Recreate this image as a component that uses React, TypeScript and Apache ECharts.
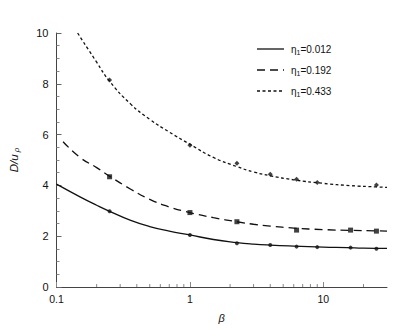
import React, { useEffect, useRef } from "react";
import * as echarts from "echarts";

// Fitted curves (beta, D/u_rho)
const curveLowBeta = [0.1, 0.15, 0.2, 0.25, 0.36, 0.5, 0.7, 1, 1.5, 2.25, 3, 4, 6, 10, 15, 20, 30];
const curveLowY = [4.05, 3.55, 3.22, 2.98, 2.62, 2.38, 2.2, 2.05, 1.87, 1.75, 1.69, 1.65, 1.61, 1.57, 1.55, 1.53, 1.52];

const curveMidBeta = [0.112, 0.15, 0.2, 0.25, 0.36, 0.5, 0.7, 1, 1.5, 2.25, 3, 4, 6, 10, 16, 25, 30];
const curveMidY = [5.72, 5.1, 4.7, 4.36, 3.85, 3.45, 3.15, 2.93, 2.73, 2.57, 2.47, 2.4, 2.32, 2.26, 2.23, 2.21, 2.2];

const curveHighBeta = [0.144, 0.2, 0.25, 0.36, 0.5, 0.7, 1, 1.5, 2.25, 3, 4, 6, 10, 16, 25, 30];
const curveHighY = [10, 8.85, 8.1, 7.2, 6.6, 6.1, 5.62, 5.1, 4.74, 4.53, 4.38, 4.22, 4.08, 3.99, 3.94, 3.92];

// Measured points
const ptsLowBeta = [0.25, 1, 2.25, 4, 6.3, 9, 16, 25];
const ptsLowY = [2.98, 2.05, 1.72, 1.65, 1.59, 1.57, 1.55, 1.51];

const ptsMidBeta = [0.25, 1, 2.25, 6.3, 16, 25];
const ptsMidY = [4.34, 2.93, 2.57, 2.24, 2.24, 2.2];

const ptsHighBeta = [0.25, 1, 2.25, 4, 6.3, 9, 25];
const ptsHighY = [8.15, 5.58, 4.87, 4.44, 4.24, 4.11, 4.02];

const seriesNames = ["η1=0.012", "η1=0.192", "η1=0.433"];
const legendValues = ["0.012", "0.192", "0.433"];

const xMinorTicks = [0.2, 0.3, 0.4, 0.5, 0.6, 0.7, 0.8, 0.9, 2, 3, 4, 5, 6, 7, 8, 9, 20];
const yTicks = [0, 2, 4, 6, 8, 10];

const zip = (xs: number[], ys: number[]) => xs.map((x, i) => [x, ys[i]]);

const FONT = "'Liberation Sans', Arial, sans-serif";
const INK = "#111";
const DASHES: any[] = [null, [8, 5], [3, 2.5]];

export default function App() {
  const ref = useRef<HTMLDivElement>(null);

  useEffect(() => {
    if (!ref.current) return;
    const chart = echarts.init(ref.current, null, { renderer: "svg" });

    const lineSeries = (name: string, data: number[][], dash: any) => ({
      name,
      type: "line",
      data,
      smooth: true,
      symbol: "none",
      lineStyle: { color: INK, width: 1.3, type: dash || "solid" },
      itemStyle: { color: INK },
      z: 2,
    });

    const scatter = (data: number[][], symbol: string, size: number) => ({
      type: "scatter",
      data,
      symbol,
      symbolSize: size,
      itemStyle: { color: INK },
      z: 3,
    });

    // legend drawn as graphic rows
    const legendRows: any[] = [];
    legendValues.forEach((v, i) => {
      const cy = 49 + i * 21;
      legendRows.push({
        type: "line",
        shape: { x1: 257, y1: cy, x2: 284, y2: cy },
        style: { stroke: INK, lineWidth: 1.3, lineDash: DASHES[i] || undefined },
      });
      legendRows.push({
        type: "text",
        x: 291,
        y: cy,
        style: {
          text: `{e|η}{s|1}{e|=${v}}`,
          verticalAlign: "middle",
          fill: INK,
          rich: {
            e: { fontSize: 10, fill: INK, fontFamily: FONT },
            s: { fontSize: 7, fill: INK, fontFamily: FONT, padding: [6, 0, 0, 0] },
          },
        },
      });
    });

    chart.setOption({
      animation: false,
      backgroundColor: "#fff",
      textStyle: { fontFamily: FONT },
      grid: { left: 55, right: 28, top: 33, bottom: 44, containLabel: false },
      graphic: legendRows,
      xAxis: {
        type: "log",
        logBase: 10,
        min: 0.1,
        max: 30,
        name: "β",
        nameLocation: "middle",
        nameGap: 25,
        nameTextStyle: { fontStyle: "italic", fontSize: 11, color: INK, fontFamily: FONT },
        axisLine: { lineStyle: { color: "#444", width: 1 } },
        axisTick: { inside: true, length: 5, lineStyle: { color: "#888" } },
        splitLine: { show: false },
        axisLabel: {
          color: INK,
          fontSize: 10.5,
          margin: 6,
          showMaxLabel: false,
          formatter: (v: number) => {
            const l = Math.log10(v);
            if (Math.abs(l - Math.round(l)) > 1e-6) return "";
            return String(Number(v.toPrecision(6)));
          },
        },
      },
      yAxis: {
        type: "value",
        min: 0,
        max: 10,
        interval: 2,
        name: "{i|D/u}{s|ρ}",
        nameLocation: "middle",
        nameGap: 36,
        nameRotate: 90,
        nameTextStyle: {
          rich: {
            i: { fontStyle: "italic", fontSize: 11.5, color: INK, fontFamily: FONT },
            s: { fontStyle: "italic", fontSize: 8, color: INK, fontFamily: FONT, padding: [5, 0, 0, 2] },
          },
        },
        axisLine: { show: true, lineStyle: { color: "#444", width: 1 } },
        axisTick: { show: true, inside: true, length: 5, lineStyle: { color: "#666" } },
        minorTick: { show: true, splitNumber: 4, length: 3, lineStyle: { color: "#888" } },
        splitLine: { show: false },
        axisLabel: {
          color: INK,
          fontSize: 11,
          margin: 8,
          formatter: (v: number) => (yTicks.includes(v) ? String(v) : ""),
        },
      },
      series: [
        lineSeries(seriesNames[0], zip(curveLowBeta, curveLowY), DASHES[0]),
        lineSeries(seriesNames[1], zip(curveMidBeta, curveMidY), DASHES[1]),
        lineSeries(seriesNames[2], zip(curveHighBeta, curveHighY), DASHES[2]),
        scatter(zip(ptsLowBeta, ptsLowY), "circle", 4),
        scatter(zip(ptsMidBeta, ptsMidY), "rect", 5),
        scatter(zip(ptsHighBeta, ptsHighY), "diamond", 5),
        {
          type: "custom",
          data: xMinorTicks.map((x) => [x, 0]),
          silent: true,
          z: 1,
          renderItem: (_params: any, api: any) => {
            const p = api.coord([api.value(0), 0]);
            return {
              type: "line",
              shape: { x1: p[0], y1: p[1], x2: p[0], y2: p[1] - 3 },
              style: { stroke: "#888", lineWidth: 1 },
            };
          },
        },
      ],
    });

    return () => chart.dispose();
  }, []);

  return (
    <div
      ref={ref}
      style={{ position: "fixed", left: 0, top: 0, width: 415, height: 331, background: "#fff" }}
    />
  );
}
